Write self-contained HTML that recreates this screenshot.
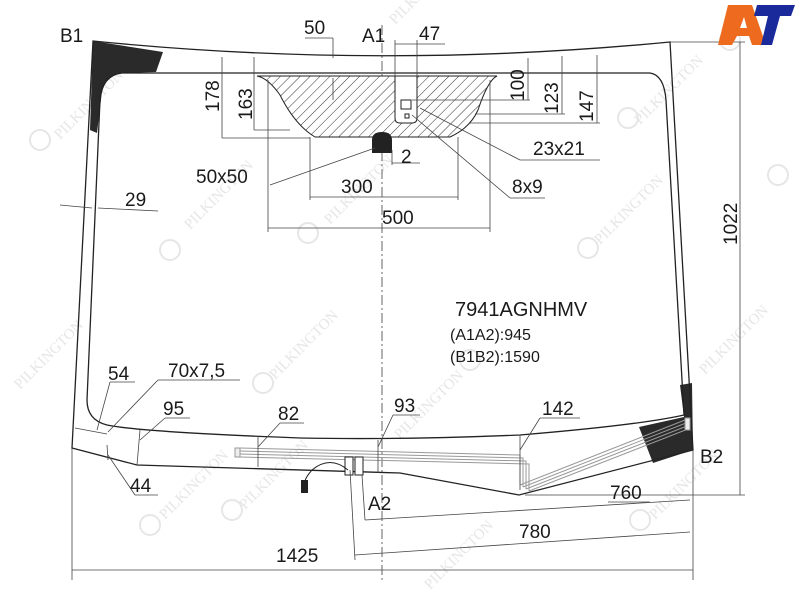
<!DOCTYPE html>
<html><head><meta charset="utf-8"><style>
html,body{margin:0;padding:0;background:#fff;}
svg{display:block;}
text{font-family:"Liberation Sans",sans-serif;fill:#1a1a1a;}
</style></head><body>
<svg width="800" height="600" viewBox="0 0 800 600" xmlns="http://www.w3.org/2000/svg">
<defs>
<pattern id="h" width="7" height="7" patternUnits="userSpaceOnUse" patternTransform="rotate(45)">
<rect width="7" height="7" fill="#fff"/><line x1="0" y1="0" x2="0" y2="7" stroke="#333" stroke-width="1"/>
</pattern>
</defs>
<!-- watermarks -->
<g font-size="15" style="font-family:'Liberation Serif',serif">
<g fill="#e6e6e6">
<text transform="translate(60,140) rotate(-45)" style="fill:#e6e6e6;font-family:'Liberation Serif',serif">PILKINGTON</text>
<text transform="translate(190,230) rotate(-45)" style="fill:#e6e6e6;font-family:'Liberation Serif',serif">PILKINGTON</text>
<text transform="translate(330,225) rotate(-45)" style="fill:#e6e6e6;font-family:'Liberation Serif',serif">PILKINGTON</text>
<text transform="translate(600,245) rotate(-45)" style="fill:#e6e6e6;font-family:'Liberation Serif',serif">PILKINGTON</text>
<text transform="translate(640,125) rotate(-45)" style="fill:#e6e6e6;font-family:'Liberation Serif',serif">PILKINGTON</text>
<text transform="translate(20,390) rotate(-45)" style="fill:#e6e6e6;font-family:'Liberation Serif',serif">PILKINGTON</text>
<text transform="translate(275,380) rotate(-45)" style="fill:#e6e6e6;font-family:'Liberation Serif',serif">PILKINGTON</text>
<text transform="translate(400,440) rotate(-45)" style="fill:#e6e6e6;font-family:'Liberation Serif',serif">PILKINGTON</text>
<text transform="translate(705,375) rotate(-45)" style="fill:#e6e6e6;font-family:'Liberation Serif',serif">PILKINGTON</text>
<text transform="translate(165,520) rotate(-45)" style="fill:#e6e6e6;font-family:'Liberation Serif',serif">PILKINGTON</text>
<text transform="translate(245,510) rotate(-45)" style="fill:#e6e6e6;font-family:'Liberation Serif',serif">PILKINGTON</text>
<text transform="translate(430,590) rotate(-45)" style="fill:#e6e6e6;font-family:'Liberation Serif',serif">PILKINGTON</text>
<text transform="translate(655,520) rotate(-45)" style="fill:#e6e6e6;font-family:'Liberation Serif',serif">PILKINGTON</text>
<text transform="translate(395,25) rotate(-45)" style="fill:#e6e6e6;font-family:'Liberation Serif',serif">PILKINGTON</text>
</g>
<g fill="none" stroke="#e6e6e6" stroke-width="2">
<circle cx="40" cy="140" r="10"/><circle cx="170" cy="250" r="10"/><circle cx="308" cy="233" r="10"/><circle cx="588" cy="248" r="10"/><circle cx="628" cy="118" r="10"/><circle cx="263" cy="383" r="10"/><circle cx="730" cy="40" r="10"/><circle cx="150" cy="525" r="10"/><circle cx="232" cy="510" r="10"/><circle cx="640" cy="520" r="10"/><circle cx="470" cy="360" r="10"/><circle cx="778" cy="175" r="10"/>
</g>
</g>
<!-- center line -->
<line x1="382" y1="25" x2="382" y2="580" stroke="#666" stroke-width="1" stroke-dasharray="10,3,2,3"/>
<!-- black bands -->
<path d="M93,41 L163,52 L156,72 L122,73 Q102,77 101,100 L97,133 L90,130 Z" fill="#2a2a2a"/>
<path d="M639,427 L684,417 L680,385 L692,383 L693,450 L653,463 Z" fill="#2a2a2a"/>
<!-- glass outlines -->
<path d="M93,41 Q380,70 670,42 L693,450 L519,495 L400,473 L137,465 L72,448 Z" fill="none" stroke="#222" stroke-width="1.3"/>
<path d="M122,73 L650,73 Q664,75 666,100 L684,415 Q640,425 520,435 Q400,440 300,438 Q140,432 107,425 Q87,420 87,400 L100,100 Q102,75 122,73 Z" fill="none" stroke="#222" stroke-width="1.3"/>
<!-- hatched area -->
<path d="M257,76 Q268,78 280,95 Q295,125 315,137 L450,137 Q470,128 478,110 Q488,80 497,76 Z" fill="url(#h)" stroke="#222" stroke-width="1"/>
<path d="M395,76 L395,118 Q395,123 400,123 L412,123 Q417,123 417,118 L417,76 Z" fill="#fff" stroke="#222" stroke-width="1"/>
<rect x="401" y="100" width="10" height="9" fill="none" stroke="#222"/>
<rect x="405" y="114" width="4" height="4" fill="none" stroke="#222"/>
<path d="M372,153 L372,140 Q372,132 382,132 Q392,132 392,140 L392,153 Z" fill="#222"/>
<!-- heater strips -->
<g stroke="#999" stroke-width="1" fill="none">
<rect x="235" y="448" width="5" height="9" fill="#eee"/>
<path d="M240,448 L520,455 L520,485 M240,451 L523,458 L523,487 M240,454 L526,461 L526,489 M240,457 L529,464 L529,491"/>
<path d="M520,485 L685,420 M523,487 L686,423 M526,489 L687,426 M529,491 L688,429"/>
<rect x="685" y="418" width="5" height="12" fill="#eee"/>
</g>
<rect x="345" y="457" width="8" height="18" fill="#fff" stroke="#222"/>
<rect x="355" y="457" width="8" height="18" fill="#fff" stroke="#222"/>
<path d="M348,470 Q330,455 312,470 Q305,478 305,482" fill="none" stroke="#222"/>
<rect x="301" y="480" width="7" height="13" fill="#222"/>
<!-- dimension lines -->
<g stroke="#444" stroke-width="0.8" fill="none">
<line x1="72" y1="448" x2="72" y2="580"/><line x1="693" y1="450" x2="693" y2="580"/>
<line x1="72" y1="570" x2="693" y2="570"/>
<line x1="350" y1="470" x2="355" y2="560"/><line x1="355" y1="555" x2="690" y2="532"/>
<line x1="362" y1="475" x2="365" y2="520"/><line x1="365" y1="520" x2="690" y2="500"/>
<line x1="525" y1="495" x2="745" y2="495"/>
<line x1="670" y1="42" x2="745" y2="42"/><line x1="740" y1="42" x2="740" y2="495"/>
<line x1="268" y1="80" x2="268" y2="232"/><line x1="490" y1="80" x2="490" y2="232"/>
<line x1="268" y1="228" x2="490" y2="228"/>
<line x1="310" y1="137" x2="310" y2="200"/><line x1="458" y1="137" x2="458" y2="200"/>
<line x1="310" y1="197" x2="458" y2="197"/>
<line x1="222" y1="57" x2="222" y2="138"/><line x1="222" y1="138" x2="310" y2="138"/>
<line x1="254" y1="57" x2="254" y2="130"/><line x1="254" y1="130" x2="290" y2="130"/>
<line x1="528" y1="58" x2="528" y2="100"/><line x1="412" y1="100" x2="530" y2="100"/>
<line x1="562" y1="56" x2="562" y2="114"/><line x1="475" y1="114" x2="565" y2="114"/>
<line x1="597" y1="55" x2="597" y2="123"/><line x1="470" y1="123" x2="600" y2="123"/>
<line x1="395" y1="40" x2="395" y2="76"/><line x1="417" y1="40" x2="417" y2="76"/>
<line x1="395" y1="44" x2="445" y2="44"/>
<line x1="333" y1="38" x2="333" y2="58"/><line x1="305" y1="38" x2="333" y2="38"/>
<line x1="333" y1="78" x2="333" y2="100"/>
<line x1="392" y1="150" x2="392" y2="165"/><line x1="392" y1="163" x2="420" y2="163"/>
<line x1="375" y1="148" x2="270" y2="185"/>
<line x1="412" y1="115" x2="510" y2="198"/><line x1="510" y1="198" x2="545" y2="198"/>
<line x1="420" y1="108" x2="520" y2="160"/><line x1="520" y1="160" x2="600" y2="160"/>
<line x1="60" y1="205" x2="92" y2="208"/><line x1="98" y1="208" x2="158" y2="211"/>
<line x1="75" y1="428" x2="107" y2="434"/><line x1="97" y1="430" x2="110" y2="382"/><line x1="110" y1="382" x2="135" y2="382"/>
<line x1="108" y1="432" x2="158" y2="380"/><line x1="158" y1="380" x2="240" y2="380"/>
<line x1="107" y1="445" x2="108" y2="460"/><line x1="108" y1="455" x2="135" y2="495"/><line x1="135" y1="495" x2="158" y2="495"/>
<line x1="140" y1="430" x2="137" y2="465"/><line x1="140" y1="440" x2="165" y2="418"/><line x1="165" y1="418" x2="190" y2="418"/>
<line x1="258" y1="437" x2="258" y2="467"/><line x1="258" y1="447" x2="280" y2="423"/><line x1="280" y1="423" x2="304" y2="423"/>
<line x1="378" y1="440" x2="378" y2="473"/><line x1="378" y1="447" x2="393" y2="415"/><line x1="393" y1="415" x2="420" y2="415"/>
<line x1="520" y1="435" x2="520" y2="490"/><line x1="520" y1="450" x2="540" y2="418"/><line x1="540" y1="418" x2="580" y2="418"/>
<line x1="608" y1="502" x2="650" y2="502"/>
</g>
<!-- AT logo -->
<path d="M728,5 L752,5 L766,45 L752,45 L749,36 L737,36 L732,45 L718,45 Z M740,28 L747,28 L744,17 Z" fill="#ee6a1f"/>
<path d="M757,5 L795,5 L791,16 L780,16 L772,45 L761,45 L768,16 L754,16 Z" fill="#1a2a9a"/>
<!-- labels -->
<g font-size="19">
<text x="60" y="42">B1</text>
<text x="304" y="34">50</text>
<text x="362" y="42">A1</text>
<text x="419" y="40">47</text>
<text x="401" y="163">2</text>
<text x="533" y="155">23x21</text>
<text x="512" y="193">8x9</text>
<text x="196" y="183">50x50</text>
<text x="341" y="193">300</text>
<text x="382" y="224">500</text>
<text x="125" y="206">29</text>
<text x="108" y="380">54</text>
<text x="168" y="377">70x7,5</text>
<text x="163" y="415">95</text>
<text x="278" y="420">82</text>
<text x="394" y="412">93</text>
<text x="542" y="415">142</text>
<text x="700" y="463">B2</text>
<text x="130" y="492">44</text>
<text x="610" y="499">760</text>
<text x="368" y="510">A2</text>
<text x="519" y="538">780</text>
<text x="276" y="562">1425</text>
<text transform="translate(219,112) rotate(-90)">178</text>
<text transform="translate(252,120) rotate(-90)">163</text>
<text transform="translate(524,101) rotate(-90)">100</text>
<text transform="translate(558,114) rotate(-90)">123</text>
<text transform="translate(593,122) rotate(-90)">147</text>
<text transform="translate(737,245) rotate(-90)">1022</text>
<text x="455" y="316" font-size="20">7941AGNHMV</text>
<text x="450" y="340" font-size="16">(A1A2):945</text>
<text x="450" y="362" font-size="16">(B1B2):1590</text>
</g>
</svg>
</body></html>
